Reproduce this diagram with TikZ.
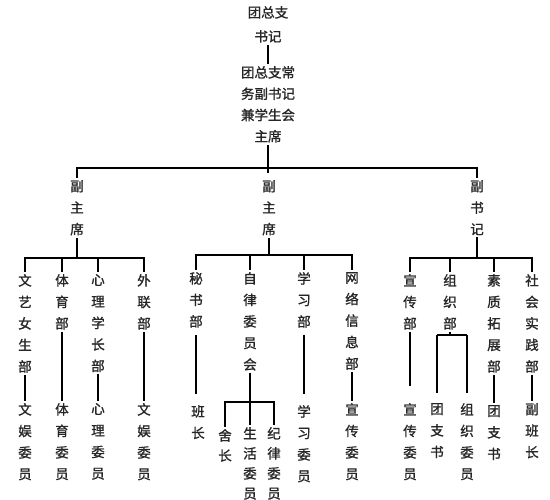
\documentclass[tikz,border=0pt]{standalone}
\usepackage{fontspec}
\newfontfamily\cjk[FakeBold=1.2]{Noto Sans CJK SC}
\begin{document}
\begin{tikzpicture}[x=1pt,y=-1pt,
  col/.style={font=\cjk\fontsize{13.5pt}{21.5pt}\selectfont, align=center, inner sep=2pt, anchor=north, text=black!85},
  tight/.style={font=\cjk\fontsize{13.5pt}{20pt}\selectfont},
  conn/.style={draw=black, line width=1.6pt}]
\useasboundingbox (0,0) rectangle (550,500);
\fill[white] (0,0) rectangle (550,500);

% level 0
\node[col, font=\cjk\fontsize{13.5pt}{24pt}\selectfont] (top) at (268,4) {团总支\\书记};
\node[col, font=\cjk\fontsize{13.5pt}{21.3pt}\selectfont] (main) at (268,64) {团总支常\\务副书记\\兼学生会\\主席};

% level 1
\node[col] (vp1) at (77,178) {副\\主\\席};
\node[col] (vp2) at (269,178) {副\\主\\席};
\node[col] (vp3) at (477,178) {副\\书\\记};

% level 2
\node[col] (a1) at (25,272) {文\\艺\\女\\生\\部};
\node[col] (a2) at (62,272) {体\\育\\部};
\node[col] (a3) at (98,272) {心\\理\\学\\长\\部};
\node[col] (a4) at (144,272) {外\\联\\部};
\node[col] (b1) at (196,270) {秘\\书\\部};
\node[col] (b2) at (250,270) {自\\律\\委\\员\\会};
\node[col] (b3) at (304,270) {学\\习\\部};
\node[col] (b4) at (352,270) {网\\络\\信\\息\\部};
\node[col] (c1) at (410,272) {宣\\传\\部};
\node[col] (c2) at (450,272) {组\\织\\部};
\node[col] (c3) at (494,272) {素\\质\\拓\\展\\部};
\node[col] (c4) at (532,272) {社\\会\\实\\践\\部};

% level 3
\node[col] (a1x) at (25,401) {文\\娱\\委\\员};
\node[col] (a2x) at (62,401) {体\\育\\委\\员};
\node[col] (a3x) at (98,401) {心\\理\\委\\员};
\node[col] (a4x) at (144,401) {文\\娱\\委\\员};
\node[col] (b1x) at (198,403) {班\\长};
\node[col, tight] (s1) at (225,427) {舍\\长};
\node[col, tight] (s2) at (250,425) {生\\活\\委\\员};
\node[col, tight] (s3) at (274,425) {纪\\律\\委\\员};
\node[col] (b3x) at (304,403) {学\\习\\委\\员};
\node[col] (b4x) at (352,401) {宣\\传\\委\\员};
\node[col] (c1x) at (410,401) {宣\\传\\委\\员};
\node[col] (t1) at (437,401) {团\\支\\书};
\node[col] (t2) at (467,401) {组\\织\\委\\员};
\node[col] (c3x) at (494,403) {团\\支\\书};
\node[col] (c4x) at (532,401) {副\\班\\长};

% bus levels
\coordinate (L0) at (0,168);
\coordinate (L0t) at (0,173);
\coordinate (LA) at (0,258);
\coordinate (LB) at (0,255);
\coordinate (LC) at (0,258);
\coordinate (LS) at (0,402);
\coordinate (LT) at (0,335);

% connectors
\draw[conn] (top.south) -- (main.north);
\draw[conn] (main.south) -- (main.south |- L0t);
\draw[conn] (vp1.north) -- (vp1.north |- L0) -- (vp3.north |- L0) -- (vp3.north);

\draw[conn] (vp1.south) -- (vp1.south |- LA);
\draw[conn] (a1.north) -- (a1.north |- LA) -- (a4.north |- LA) -- (a4.north);
\draw[conn] (a2.north) -- (a2.north |- LA);
\draw[conn] (a3.north) -- (a3.north |- LA);

\draw[conn] (vp2.south) -- (vp2.south |- LB);
\draw[conn] (b1.north) -- (b1.north |- LB) -- (b4.north |- LB) -- (b4.north);
\draw[conn] (b2.north) -- (b2.north |- LB);
\draw[conn] (b3.north) -- (b3.north |- LB);

\draw[conn] (vp3.south) -- (vp3.south |- LC);
\draw[conn] (c1.north) -- (c1.north |- LC) -- (c4.north |- LC) -- (c4.north);
\draw[conn] (c2.north) -- (c2.north |- LC);
\draw[conn] (c3.north) -- (c3.north |- LC);

\draw[conn] (a1.south) -- (a1x.north);
\draw[conn] (a2.south) -- (a2x.north);
\draw[conn] (a3.south) -- (a3x.north);
\draw[conn] (a4.south) -- (a4x.north);
\draw[conn, shorten <=5pt, shorten >=9pt] (b1.south) -- (b1.south |- b1x.north);
\draw[conn, shorten <=5pt, shorten >=9pt] (b3.south) -- (b3x.north);
\draw[conn] (b4.south) -- (b4x.north);
\draw[conn, shorten >=15pt] (c1.south) -- (c1x.north);
\draw[conn] (c3.south) -- (c3x.north);
\draw[conn] (c4.south) -- (c4x.north);

\draw[conn] (b2.south) -- (b2.south |- LS);
\draw[conn] (s1.north) -- (s1.north |- LS) -- (s3.north |- LS) -- (s3.north);
\draw[conn] (s2.north) -- (s2.north |- LS);

\draw[conn] (c2.south) -- (c2.south |- LT);
\draw[conn, shorten >=8pt] (t1.north |- LT) -- (t1.north);
\draw[conn, shorten >=8pt] (t2.north |- LT) -- (t2.north);
\draw[conn] (t1.north |- LT) -- (t2.north |- LT);
\end{tikzpicture}
\end{document}
